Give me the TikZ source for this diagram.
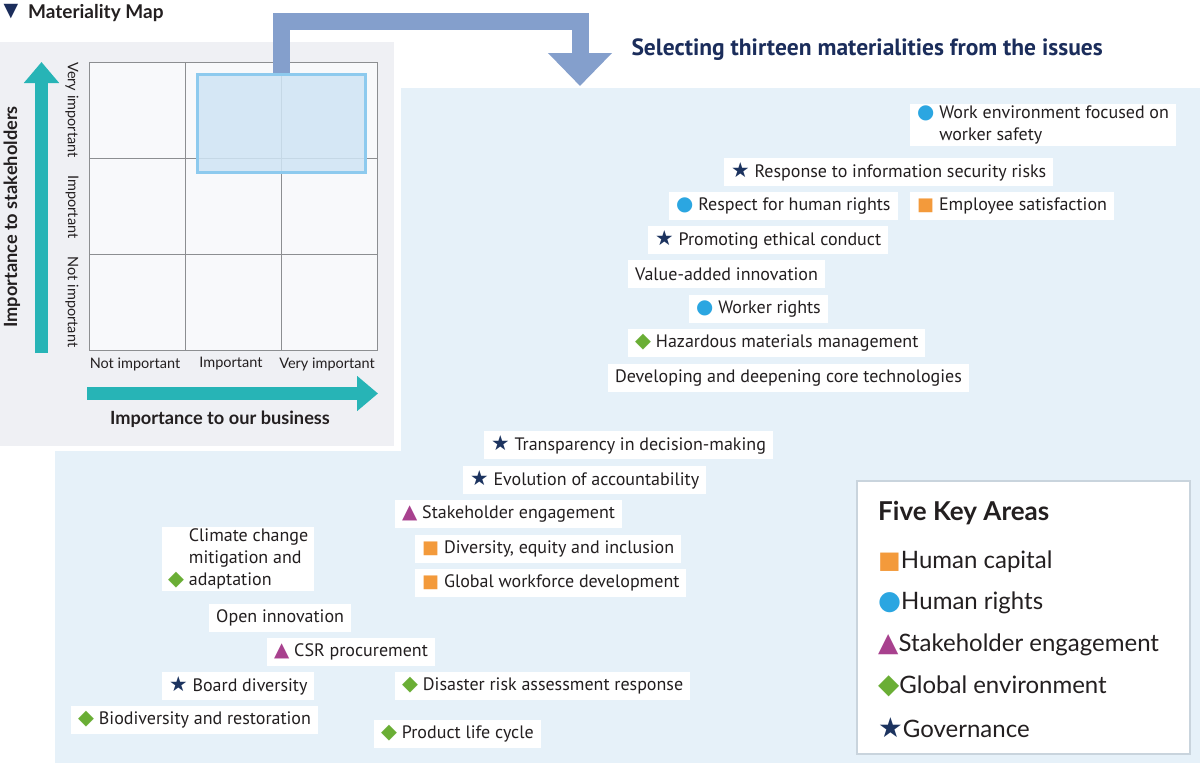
\documentclass[tikz,border=0pt]{standalone}
\usepackage{fontspec}
\setmainfont{Lato}
\newfontfamily\condfont{PT Sans}
\newfontfamily\symfont{DejaVu Sans}
\newfontfamily\bigsymfont[Scale=1.15]{DejaVu Sans}
\usetikzlibrary{arrows.meta}
\usetikzlibrary{positioning}

\definecolor{panelgrey}{HTML}{EFF0F4}
\definecolor{cellgrey}{HTML}{F8F9FB}
\definecolor{gridgrey}{HTML}{8C8E91}
\definecolor{listblue}{HTML}{E6F1F9}
\definecolor{flowblue}{HTML}{849FCC}
\definecolor{axisteal}{HTML}{27B4B6}
\definecolor{selfill}{HTML}{CFE5F5}
\definecolor{seledge}{HTML}{8DCAEE}
\definecolor{navy}{HTML}{1B2D5B}
\definecolor{hcorange}{HTML}{F39A3B}
\definecolor{hrblue}{HTML}{2BA6E1}
\definecolor{sepurple}{HTML}{A8418E}
\definecolor{gegreen}{HTML}{6AAE35}
\definecolor{govnavy}{HTML}{1C335F}
\definecolor{inktext}{HTML}{231F20}
\definecolor{keyedge}{HTML}{C9D4DD}

\newcommand{\hcsq}{{\symfont\textcolor{hcorange}{■}}}
\newcommand{\hrdot}{{\symfont\addfontfeature{Scale=1.1}\textcolor{hrblue}{●}}}
\newcommand{\setri}{{\symfont\addfontfeature{Scale=1.1}\textcolor{sepurple}{▲}}}
\newcommand{\gedia}{{\bigsymfont\textcolor{gegreen}{◆}}}
\newcommand{\govstar}{{\bigsymfont\textcolor{govnavy}{★}}}

\begin{document}
\begin{tikzpicture}[x=1pt,y=-1pt,>=Triangle,text=inktext]
\tikzstyle{issue}=[fill=white,anchor=west,inner xsep=7pt,inner ysep=2pt,minimum height=28pt,font=\condfont\fontsize{18}{22}\selectfont,align=left]
\tikzstyle{cell}=[fill=cellgrey,draw=gridgrey,line width=0.8pt]
\tikzstyle{axis}=[draw=axisteal,line width=13pt,-{Triangle[width=34pt,length=21pt]}]
\tikzstyle{level}=[font=\fontsize{14.5}{16}\selectfont]
\tikzstyle{keyitem}=[anchor=west,inner sep=0pt,font=\fontsize{24}{27}\selectfont]
\useasboundingbox (0,0) rectangle (1200,763);

\fill[listblue] (55,88) rectangle (1200,763);
\fill[white] (0,42) rectangle (401,451);
\fill[panelgrey] (0,42) rectangle (394,446);

\node[anchor=center,inner sep=0pt,text=navy,font=\symfont\fontsize{19}{19}\selectfont] (mark) at (11,12) {▼};
\node[anchor=west,inner sep=0pt,font=\bfseries\fontsize{19}{22}\selectfont] (maptitle) at (28,13) {Materiality Map};

\foreach \i in {0,1,2}
  \foreach \j in {0,1,2}
    \draw[cell] ({89+96*\i},{62+96*\j}) rectangle +(96,96);

\node[draw=seledge,line width=3pt,fill=selfill,fill opacity=0.85,minimum width=168pt,minimum height=98pt] (sel) at (281.5,123.5) {};

\draw[axis] (41.5,353) -- (41.5,62);
\draw[axis] (87,393.5) -- (378,393.5);

\node[rotate=90,font=\bfseries\fontsize{18.2}{20}\selectfont] (stake) at (12,217) {Importance to stakeholders};
\node[font=\bfseries\fontsize{18.2}{20}\selectfont] (business) at (220,419) {Importance to our business};

\node[level,rotate=-90] (rowvery) at (72,110) {Very important};
\node[level,rotate=-90] (rowimp) at (72,207) {Important};
\node[level,rotate=-90] (rownot) at (72,302) {Not important};
\node[level] (colnot) at (135,364) {Not important};
\node[level] (colimp) at (231,364) {Important};
\node[level] (colvery) at (327,364) {Very important};

\draw[flowblue,line width=17pt,-{Triangle[width=62pt,length=33pt]}] (sel.north) |- (580,21) -- (580,86);
\node[anchor=west,text=navy,font=\condfont\bfseries\fontsize{23.5}{26}\selectfont] (selecting) at (628,50) {Selecting thirteen materialities from the issues};

\node[issue] (safety) at (910,125) {\hrdot\ Work environment focused on\\\hphantom{\hrdot\ }worker safety};
\node[issue] (infosec) at (724,172) {\govstar\ Response to information security risks};
\node[issue] (humanrights) at (669,206) {\hrdot\ Respect for human rights};
\node[issue] (satisfaction) at (910,206) {\hcsq\ Employee satisfaction};
\node[issue] (ethics) at (648,240) {\govstar\ Promoting ethical conduct};
\node[issue] (valueadd) at (628,274) {Value-added innovation};
\node[issue] (workerrights) at (689,309) {\hrdot\ Worker rights};
\node[issue] (hazard) at (628,343) {\gedia\ Hazardous materials management};
\node[issue] (coretech) at (608,378) {Developing and deepening core technologies};

\node[issue] (transparency) at (484,445) {\govstar\ Transparency in decision-making};
\node[issue] (accountability) at (463,480) {\govstar\ Evolution of accountability};
\node[issue] (engagement) at (395,514) {\setri\ Stakeholder engagement};
\node[issue] (dei) at (415,549) {\hcsq\ Diversity, equity and inclusion};
\node[issue] (workforce) at (415,583) {\hcsq\ Global workforce development};
\node[issue,inner xsep=6pt] (climate) at (162,559) {\hphantom{\gedia\ }Climate change\\\hphantom{\gedia\ }mitigation and\\\gedia\ adaptation};
\node[issue] (openinno) at (209,618) {Open innovation};
\node[issue] (csr) at (267,652) {\setri\ CSR procurement};
\node[issue] (board) at (162,686) {\govstar\ Board diversity};
\node[issue] (disaster) at (395,686) {\gedia\ Disaster risk assessment response};
\node[issue] (biodiv) at (71,720) {\gedia\ Biodiversity and restoration};
\node[issue] (lifecycle) at (374,734) {\gedia\ Product life cycle};

\node[fill=white,draw=keyedge,line width=1.5pt,minimum width=333pt,minimum height=273pt] (key) at (1023.5,617.5) {};
\node[keyitem,font=\bfseries\fontsize{26}{28}\selectfont] (keytitle) at (878,513) {Five Key Areas};
\foreach \sym/\area [count=\k] in {\hcsq/Human capital,\hrdot/Human rights,\setri/Stakeholder engagement,\gedia/Global environment,\govstar/Governance}
  \node[keyitem] (key\k) at (878,{562+41.3*(\k-1)}) {\sym\area};
\end{tikzpicture}
\end{document}
